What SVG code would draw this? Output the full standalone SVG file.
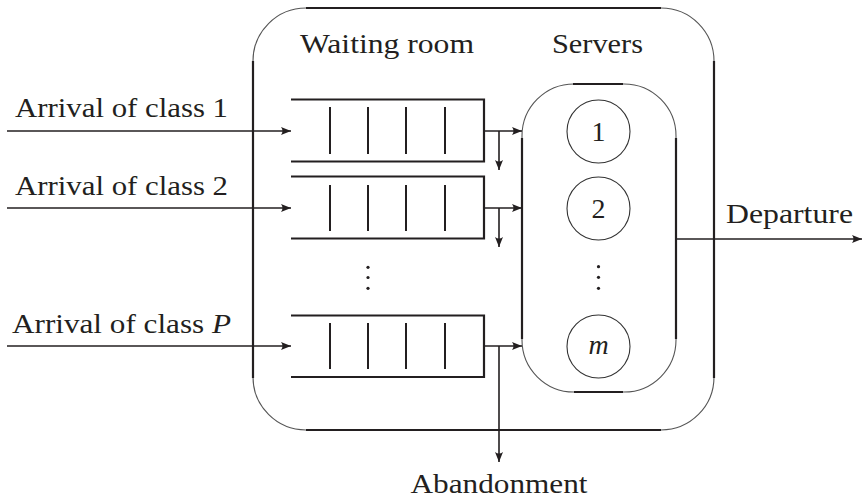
<svg xmlns="http://www.w3.org/2000/svg" width="862" height="500" viewBox="0 0 862 500">
<style>
  .t { font-family: "Liberation Serif", "Times New Roman", serif; font-size: 28px; fill: #231f20; }
  .it { font-style: italic; }
  .arc { fill: none; stroke: #555; stroke-width: 1.1; }
  .thick { fill: none; stroke: #231f20; stroke-width: 2.2; }
  .q { fill: none; stroke: #231f20; stroke-width: 2.2; }
  .div { stroke: #231f20; stroke-width: 2; }
  .srv { fill: none; stroke: #333; stroke-width: 1.1; }
  .conn { fill: none; stroke: #231f20; stroke-width: 1.6; }
  .dot { fill: #231f20; }
</style>
<defs>
  <marker id="ah" viewBox="0 0 10 8" refX="10" refY="4" markerWidth="10" markerHeight="8" markerUnits="userSpaceOnUse" orient="auto">
    <path d="M0,0 Q3,4 0,8 L10,4 Z" fill="#231f20"/>
  </marker>
</defs>

<g id="system">
  <rect class="arc" x="253" y="8" width="461" height="422" rx="53" ry="53"/>
  <path class="thick" d="M306,8 H661 M306,430 H661 M253,61 V378 M714,61 V378"/>
  <text class="t" x="300" y="53" textLength="174" lengthAdjust="spacingAndGlyphs">Waiting room</text>
  <text class="t" x="552" y="53" textLength="91" lengthAdjust="spacingAndGlyphs">Servers</text>
</g>

<g id="queue1">
  <path class="q" d="M291,99.5 H484 V161.5 H291"/>
  <path class="div" d="M330,107 V154 M368,107 V154 M406,107 V154 M445,107 V154"/>
</g>
<g id="queue2">
  <path class="q" d="M291,176.5 H484 V238.5 H291"/>
  <path class="div" d="M330,185 V231 M368,185 V231 M406,185 V231 M445,185 V231"/>
</g>
<g id="queue-dots">
  <circle class="dot" cx="368" cy="267.3" r="1.6"/>
  <circle class="dot" cx="368" cy="277.5" r="1.6"/>
  <circle class="dot" cx="368" cy="288.3" r="1.6"/>
</g>
<g id="queueP">
  <path class="q" d="M291,315.5 H484 V377 H291"/>
  <path class="div" d="M330,323 V369 M368,323 V369 M406,323 V369 M445,323 V369"/>
</g>

<g id="server-pool">
  <rect class="arc" x="522" y="84" width="154" height="308" rx="52" ry="52"/>
  <path class="thick" d="M573,84 H623 M574,392 H623 M522,138 V339 M676,138 V339"/>
</g>
<g id="server1">
  <circle class="srv" cx="598.5" cy="131.5" r="31.5"/>
  <text class="t" x="598.5" y="141" text-anchor="middle">1</text>
</g>
<g id="server2">
  <circle class="srv" cx="598.5" cy="208.5" r="31.5"/>
  <text class="t" x="598.5" y="218" text-anchor="middle">2</text>
</g>
<g id="server-dots">
  <circle class="dot" cx="598.5" cy="266.7" r="1.6"/>
  <circle class="dot" cx="598.5" cy="277.3" r="1.6"/>
  <circle class="dot" cx="598.5" cy="288.3" r="1.6"/>
</g>
<g id="serverm">
  <circle class="srv" cx="598.5" cy="346.5" r="31.5"/>
  <text class="t it" x="598.5" y="354" text-anchor="middle">m</text>
</g>

<g id="labels">
  <text class="t" x="15" y="117" textLength="213" lengthAdjust="spacingAndGlyphs">Arrival of class 1</text>
  <text class="t" x="15" y="195" textLength="213" lengthAdjust="spacingAndGlyphs">Arrival of class 2</text>
  <text class="t" x="12" y="333" textLength="219" lengthAdjust="spacingAndGlyphs">Arrival of class <tspan class="it">P</tspan></text>
  <text class="t" x="726" y="223" textLength="127" lengthAdjust="spacingAndGlyphs">Departure</text>
  <text class="t" x="499" y="493" text-anchor="middle" textLength="177" lengthAdjust="spacingAndGlyphs">Abandonment</text>
</g>

<g id="connectors">
  <path class="conn" d="M7,131 H291" marker-end="url(#ah)"/>
  <path class="conn" d="M7,208 H291" marker-end="url(#ah)"/>
  <path class="conn" d="M7,346 H291" marker-end="url(#ah)"/>
  <path class="conn" d="M484,131 H522" marker-end="url(#ah)"/>
  <path class="conn" d="M484,208 H522" marker-end="url(#ah)"/>
  <path class="conn" d="M484,346 H522" marker-end="url(#ah)"/>
  <path class="conn" d="M499,131 V170" marker-end="url(#ah)"/>
  <path class="conn" d="M499,208 V247" marker-end="url(#ah)"/>
  <path class="conn" d="M499,346 V462" marker-end="url(#ah)"/>
  <path class="conn" d="M676,239 H862" marker-end="url(#ah)"/>
</g>
</svg>
